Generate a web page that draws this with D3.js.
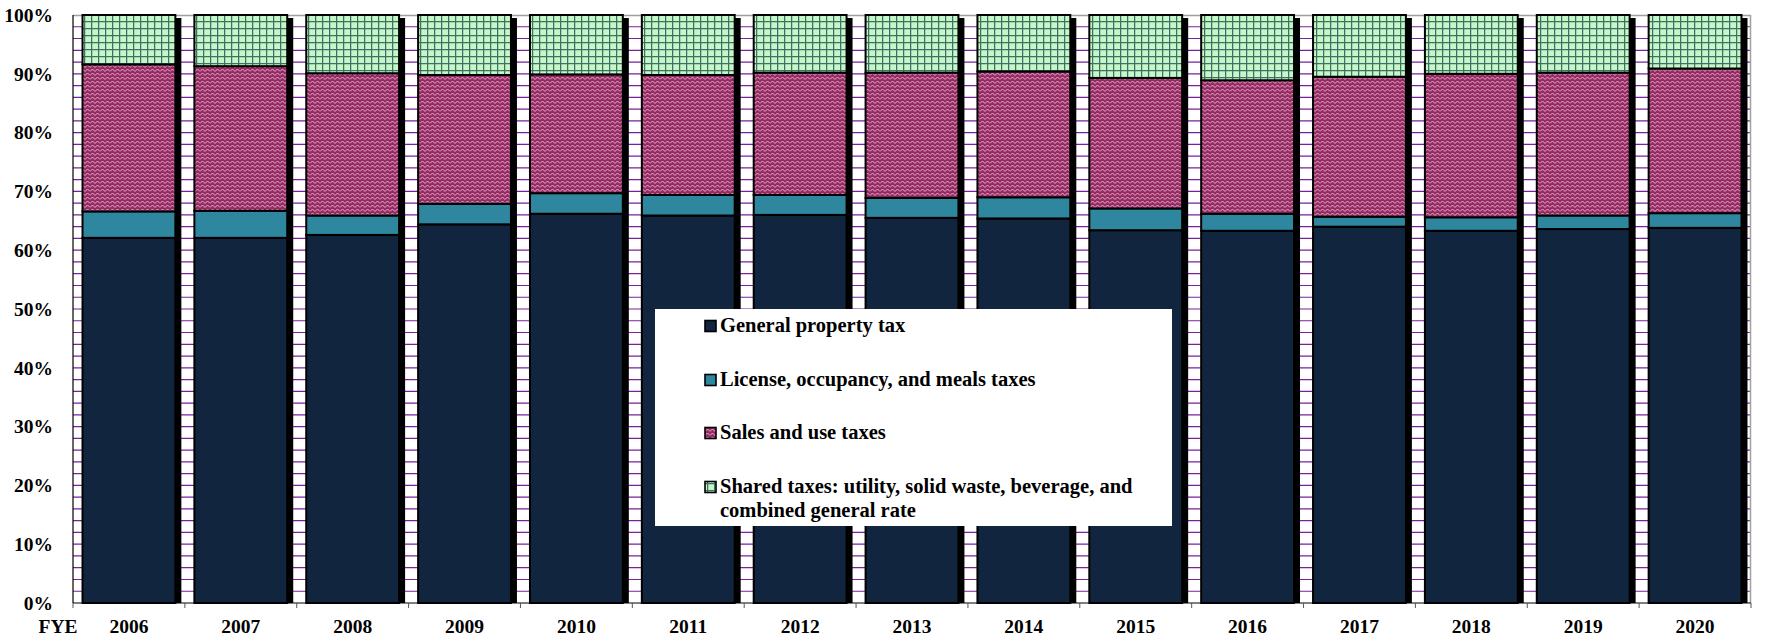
<!DOCTYPE html>
<html>
<head>
<meta charset="utf-8">
<script src="https://cdn.jsdelivr.net/npm/d3@7/dist/d3.min.js"></script>
<style>
  html, body { margin: 0; padding: 0; background: #ffffff; }
  svg { display: block; }
  text { font-family: "Liberation Serif", "Times New Roman", serif; font-weight: bold; fill: #000; }
</style>
</head>
<body>
<svg id="chart" width="1765" height="639"></svg>
<script>
const years = ["2006","2007","2008","2009","2010","2011","2012","2013","2014","2015","2016","2017","2018","2019","2020"];
const propertyTax = [62.1, 62.1, 62.6, 64.4, 66.2, 65.9, 66.0, 65.5, 65.4, 63.4, 63.3, 64.0, 63.3, 63.6, 63.8];
const licenseTax  = [4.5, 4.6, 3.3, 3.5, 3.5, 3.5, 3.4, 3.4, 3.6, 3.7, 2.9, 1.7, 2.3, 2.3, 2.5];
const salesTax    = [25.0, 24.6, 24.2, 21.9, 20.2, 20.4, 20.8, 21.3, 21.4, 22.2, 22.7, 23.8, 24.4, 24.3, 24.6];
const sharedTax   = [8.4, 8.7, 9.9, 10.2, 10.1, 10.2, 9.8, 9.8, 9.6, 10.7, 11.1, 10.5, 10.0, 9.8, 9.1];
const seriesKeys  = ["property", "license", "sales", "shared"];
const seriesNames = ["General property tax", "License, occupancy, and meals taxes", "Sales and use taxes", "Shared taxes: utility, solid waste, beverage, and|combined general rate"];
const yTicks = [0, 10, 20, 30, 40, 50, 60, 70, 80, 90, 100];
const gridValues = d3.range(2, 100, 2);

(function () {
const table = years.map((y, i) => ({year: y, property: propertyTax[i], license: licenseTax[i], sales: salesTax[i], shared: sharedTax[i]}));

const svg = d3.select("#chart");
const pLeft = 73, pRight = 1751, pTop = 15, pBottom = 603;

// patterns
const defs = svg.append("defs");
const pSales = defs.append("pattern").attr("id", "salesPat").attr("patternUnits", "userSpaceOnUse")
  .attr("width", 10).attr("height", 8);
pSales.append("rect").attr("width", 10).attr("height", 8).attr("fill", "#962a63");
pSales.append("path").attr("d", "M0,3.5 L2.5,1 L5,3.5 L7.5,1 L10,3.5 M0,7.5 L2.5,5 L5,7.5 L7.5,5 L10,7.5")
  .attr("fill", "none").attr("stroke", "#e9bfd6").attr("stroke-width", 0.9);

const pShared = defs.append("pattern").attr("id", "sharedPat").attr("patternUnits", "userSpaceOnUse")
  .attr("width", 7).attr("height", 7);
pShared.append("rect").attr("width", 7).attr("height", 7).attr("fill", "#c6f7c6");
pShared.append("path").attr("d", "M0.6,0 V7 M0,0.6 H7")
  .attr("fill", "none").attr("stroke", "#3f7068").attr("stroke-width", 1.3);

const fills = {property: "#11253f", license: "#2f869f", sales: "url(#salesPat)", shared: "url(#sharedPat)"};

const x = d3.scaleBand().domain(years).range([pLeft, pRight]).paddingInner(0.17).paddingOuter(0.085);
const y = d3.scaleLinear().domain([0, 100]).range([pBottom, pTop]);

// plot background
svg.append("rect").attr("x", pLeft).attr("y", pTop).attr("width", pRight - pLeft).attr("height", pBottom - pTop).attr("fill", "#fff");

// gridlines
svg.append("g").selectAll("line").data(gridValues).join("line")
  .attr("x1", pLeft).attr("x2", pRight)
  .attr("y1", d => y(d)).attr("y2", d => y(d))
  .attr("stroke", "#7a1f9e").attr("stroke-width", 1.2);

// top and right border
svg.append("line").attr("x1", pLeft).attr("x2", pRight).attr("y1", pTop + 0.5).attr("y2", pTop + 0.5).attr("stroke", "#a0a0a0").attr("stroke-width", 1.5);
svg.append("line").attr("x1", pRight - 0.5).attr("x2", pRight - 0.5).attr("y1", pTop).attr("y2", pBottom).attr("stroke", "#a0a0a0").attr("stroke-width", 1.5);

// shadows
svg.append("g").selectAll("rect").data(table).join("rect")
  .attr("x", d => x(d.year) + 6)
  .attr("y", y(100) + 3)
  .attr("width", x.bandwidth())
  .attr("height", pBottom - (y(100) + 3))
  .attr("fill", "#000");

// stacked bars
const stack = d3.stack().keys(seriesKeys)(table);
svg.append("g").selectAll("g").data(stack).join("g")
  .attr("fill", d => fills[d.key])
  .selectAll("rect").data(d => d).join("rect")
  .attr("x", d => x(d.data.year))
  .attr("y", d => y(d[1]))
  .attr("width", x.bandwidth())
  .attr("height", d => y(d[0]) - y(d[1]))
  .attr("stroke", "#000").attr("stroke-width", 2);

// axes
svg.append("line").attr("x1", pLeft).attr("x2", pLeft).attr("y1", pTop).attr("y2", pBottom).attr("stroke", "#000").attr("stroke-width", 1.2);
svg.append("line").attr("x1", pLeft).attr("x2", pRight).attr("y1", pBottom).attr("y2", pBottom).attr("stroke", "#000").attr("stroke-width", 1.2);

const step = x.step();
svg.append("g").selectAll("line").data(d3.range(years.length + 1)).join("line")
  .attr("x1", k => pLeft + k * step).attr("x2", k => pLeft + k * step)
  .attr("y1", pBottom).attr("y2", pBottom + 5)
  .attr("stroke", "#555").attr("stroke-width", 1);

// y labels
svg.append("g").selectAll("text").data(yTicks).join("text")
  .attr("x", 53).attr("y", d => y(d))
  .attr("dy", "0.35em")
  .attr("text-anchor", "end")
  .attr("font-size", 19.5)
  .text(d => d + "%");

// x labels
svg.append("g").selectAll("text").data(years).join("text")
  .attr("x", d => x(d) + x.bandwidth() / 2)
  .attr("y", 633)
  .attr("text-anchor", "middle")
  .attr("font-size", 19.5)
  .text(d => d);
svg.append("text").attr("x", 58).attr("y", 633).attr("text-anchor", "middle").attr("font-size", 19.5).text("FYE");

// legend
const lg = svg.append("g");
lg.append("rect").attr("x", 655).attr("y", 309).attr("width", 517).attr("height", 217).attr("fill", "#fff");
const rowBase = [332, 386, 439, 493];
seriesKeys.forEach((k, i) => {
  lg.append("rect").attr("x", 705).attr("y", rowBase[i] - 11.5).attr("width", 11).attr("height", 11)
    .attr("fill", fills[k]).attr("stroke", "#000").attr("stroke-width", 1.6);
  const lines = seriesNames[i].split("|");
  lines.forEach((t, j) => {
    lg.append("text").attr("x", 720).attr("y", rowBase[i] + j * 24).attr("font-size", 20.5).text(t);
  });
});
})();
</script>
</body>
</html>
